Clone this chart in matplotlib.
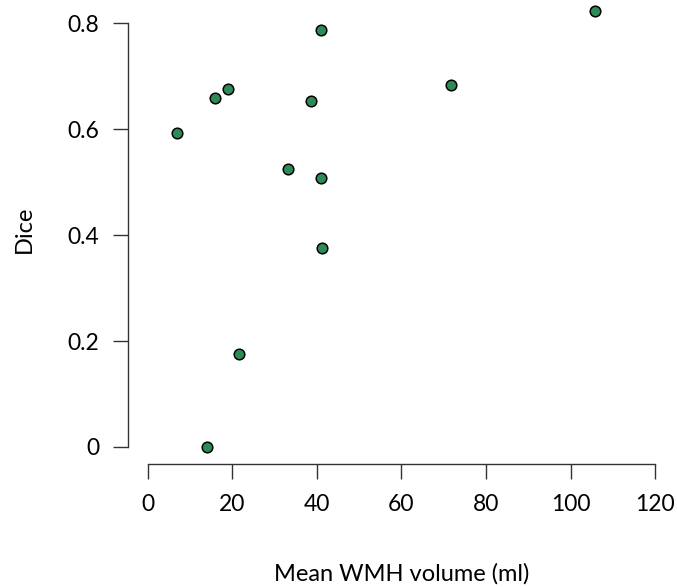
import matplotlib
matplotlib.use("Agg")
import matplotlib.pyplot as plt

plt.rcParams['font.family'] = ['Lato', 'DejaVu Sans']

# Mean WMH volume (ml) against Dice score per subject
wmh_volume = [105.8, 40.9, 6.9, 15.9, 18.9, 38.6, 71.7, 33.1, 40.9, 41.2, 21.5, 14.0]
dice = [0.824, 0.788, 0.593, 0.659, 0.676, 0.654, 0.684, 0.525, 0.508, 0.376, 0.176, 0.0]

x_ticks = [0, 20, 40, 60, 80, 100, 120]
y_ticks = [0, 0.2, 0.4, 0.6, 0.8]
y_tick_labels = ["0", "0.2", "0.4", "0.6", "0.8"]

W, H = 677, 587
fig = plt.figure(figsize=(W / 100, H / 100), dpi=100)
# axes box in pixels: left, right, bottom, top
l, r, b, t = 127.7, 675.3, 463.9, 6.5
ax = fig.add_axes([l / W, (H - b) / H, (r - l) / W, (b - t) / H])

ax.scatter(wmh_volume, dice, s=58, color="#2e8b57", edgecolors="black",
           linewidths=1.1, zorder=3, clip_on=False)

ax.set_xlim(-4.8, 124.8)
ax.set_ylim(-0.032, 0.832)

for side in ("top", "right"):
    ax.spines[side].set_visible(False)
ax.spines["left"].set_bounds(0, 0.8)
ax.spines["bottom"].set_bounds(0, 120)
for side in ("left", "bottom"):
    ax.spines[side].set_color("#333333")
    ax.spines[side].set_linewidth(1.0)

ax.set_xticks(x_ticks)
ax.set_yticks(y_ticks)
ax.set_yticklabels(y_tick_labels)
ax.tick_params(axis="both", direction="out", length=10.5, width=1.0,
               color="#333333", labelsize=16.5)
ax.tick_params(axis="x", pad=11)
ax.tick_params(axis="y", pad=10)

ax.set_xlabel("Mean WMH volume (ml)", fontsize=17)
ax.set_ylabel("Dice", fontsize=17)
ax.xaxis.set_label_coords(0.5, (24 - (H - b)) / (b - t))
ax.yaxis.set_label_coords((35 - l) / (r - l), (b - 229) / (b - t))

fig.savefig("out.png", dpi=100)
